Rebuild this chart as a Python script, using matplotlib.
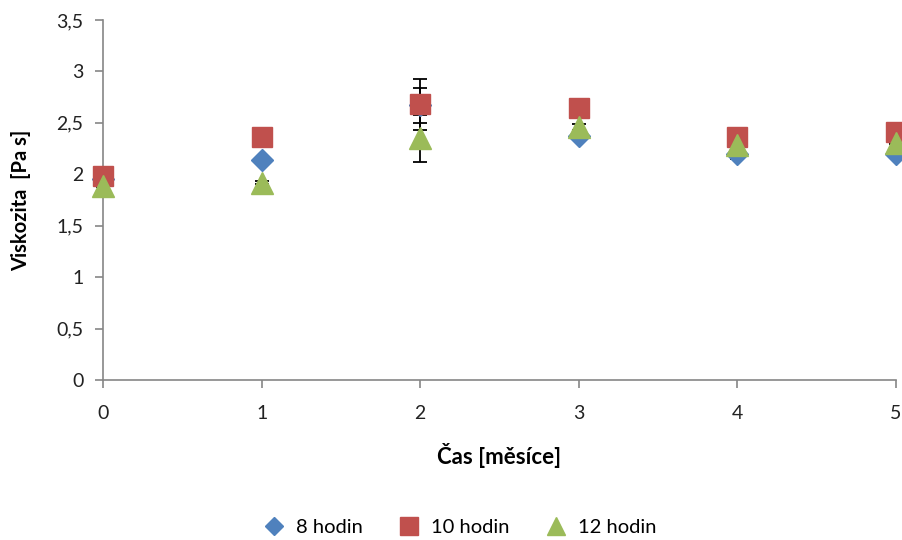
import matplotlib.pyplot as plt
from matplotlib.ticker import FuncFormatter

plt.rcParams['font.family'] = ['Lato', 'DejaVu Sans']

months = [0, 1, 2, 3, 4, 5]
h8 = [1.95, 2.14, 2.67, 2.37, 2.20, 2.20]
h10 = [1.98, 2.36, 2.68, 2.64, 2.36, 2.41]
h12 = [1.89, 1.92, 2.35, 2.46, 2.28, 2.30]
err8 = [0.01, 0.01, 0.17, 0.03, 0.05, 0.01]
err10 = [0.01, 0.01, 0.25, 0.01, 0.01, 0.01]
err12 = [0.01, 0.01, 0.23, 0.03, 0.01, 0.01]

fig = plt.figure(figsize=(9.02, 5.4), dpi=100)
ax = fig.add_axes([103 / 902, 1 - 380 / 540, (896 - 103) / 902, 360 / 540])

series = [
    (h8, err8, 'D', 11, '#4F81BD', '8 hodin'),
    (h10, err10, 's', 15, '#C0504D', '10 hodin'),
    (h12, err12, '^', 16, '#9BBB59', '12 hodin'),
]
for vals, err, mk, ms, col, lab in series:
    ax.errorbar(months, vals, yerr=err, fmt='none', ecolor='black', elinewidth=1.3,
                capsize=5, capthick=1.3, clip_on=False, zorder=2)
for vals, err, mk, ms, col, lab in series:
    ax.plot(months, vals, linestyle='none', marker=mk, markersize=ms, color=col,
            markeredgecolor=col, label=lab, clip_on=False, zorder=3)

ax.set_xlim(0, 5)
ax.set_ylim(0, 3.5)
ax.set_xticks(months)
ax.set_yticks([0, 0.5, 1, 1.5, 2, 2.5, 3, 3.5])
ax.yaxis.set_major_formatter(FuncFormatter(lambda v, p: ('%g' % v).replace('.', ',')))

for s in ['top', 'right']:
    ax.spines[s].set_visible(False)
for s in ['left', 'bottom']:
    ax.spines[s].set_color('#868686')
    ax.spines[s].set_linewidth(1.2)
ax.tick_params(direction='out', length=6, width=1.2, color='#868686',
               labelsize=14, labelcolor='#222222')
ax.tick_params(axis='y', pad=8)
ax.tick_params(axis='x', pad=12)

ax.set_xlabel('Čas [měsíce]', fontsize=16, fontweight='bold')
ax.set_ylabel('Viskozita  [Pa s]', fontsize=14.5, fontweight='bold')
ax.xaxis.set_label_coords(0.5, (380 - 455) / 360, transform=ax.transAxes)
ax.yaxis.set_label_coords((21 - 103) / 793, 0.5, transform=ax.transAxes)
ax.xaxis.label.set_va('center')
ax.yaxis.label.set_va('center')

fig.legend(loc='center', bbox_to_anchor=(455 / 902, 1 - 527 / 540), ncol=3, frameon=False,
           fontsize=14.5, handletextpad=0.1, columnspacing=1.3, markerscale=0.85)

fig.savefig('out.png', dpi=100)
